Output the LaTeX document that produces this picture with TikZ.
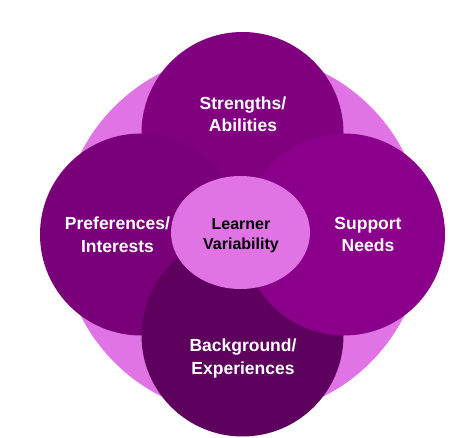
\documentclass[tikz,border=0pt]{standalone}
\usepackage{fontspec}
\setmainfont{Liberation Sans}
\usetikzlibrary{shapes.geometric}
\definecolor{bgpurple}{HTML}{E074E4}
\definecolor{ctop}{HTML}{800080}
\definecolor{cleft}{HTML}{7A007A}
\definecolor{cright}{HTML}{8B008B}
\definecolor{cbottom}{HTML}{5E005E}
\begin{document}
\begin{tikzpicture}[x=1pt,y=-1pt,
  petal/.style={circle, minimum size=202pt, inner sep=0pt, draw=none},
  lbl/.style={text=white, font=\fontsize{17.5}{22.5}\selectfont\bfseries, align=center, anchor=base},
  clbl/.style={text=black, font=\fontsize{16}{19.5}\selectfont\bfseries, align=center, anchor=base}]
\useasboundingbox (0,0) rectangle (451,438);
\node[circle, minimum size=362pt, inner sep=0pt, fill=bgpurple] (bg) at (242.5,234.5) {};
\node[petal, fill=ctop] (ptop) at (242.5,133) {};
\node[petal, fill=cleft] (pleft) at (141,234.5) {};
\node[petal, fill=cbottom] (pbottom) at (242.5,335.5) {};
\node[petal, fill=cright] (pright) at (344,234.5) {};
\node[ellipse, minimum width=139pt, minimum height=113pt, inner sep=0pt, fill=bgpurple] (core) at (240.5,232.5) {};
\node[lbl] (ttop) at (243,131.7) {Strengths/\\Abilities};
\node[lbl] (tleft) at (117.5,252.3) {Preferences/\\Interests};
\node[lbl] (tright) at (368,251.7) {Support\\Needs};
\node[lbl] (tbottom) at (243,374.3) {Background/\\Experiences};
\node[clbl] (tcore) at (241,249.5) {Learner\\Variability};
\end{tikzpicture}
\end{document}
